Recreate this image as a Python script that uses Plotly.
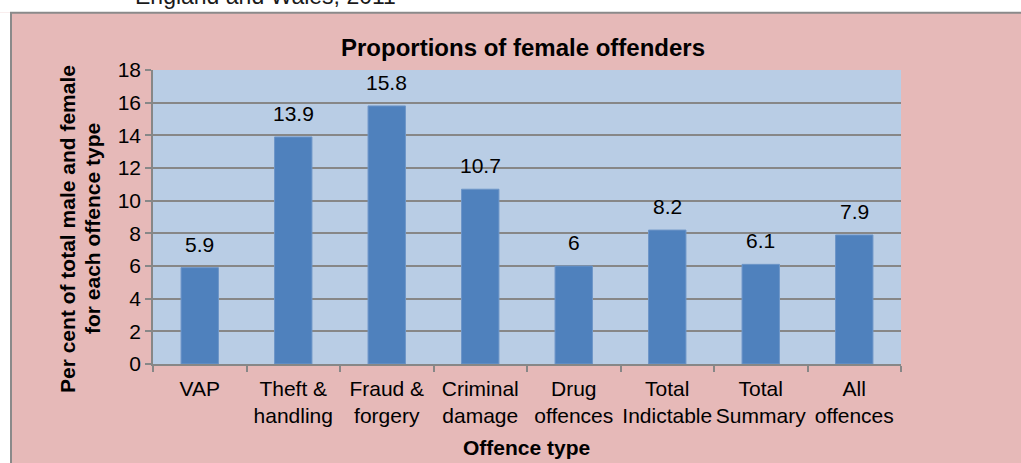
import plotly.graph_objects as go

categories = ["VAP", "Theft &<br>handling", "Fraud &<br>forgery", "Criminal<br>damage",
              "Drug<br>offences", "Total<br>Indictable", "Total<br>Summary", "All<br>offences"]
values = [5.9, 13.9, 15.8, 10.7, 6, 8.2, 6.1, 7.9]
value_labels = ["5.9", "13.9", "15.8", "10.7", "6", "8.2", "6.1", "7.9"]
y_ticks = [0, 2, 4, 6, 8, 10, 12, 14, 16, 18]

chart_title = "Proportions of female offenders"
y_title_lines = ["Per cent of total male and female", "for each offence type"]
x_title = "Offence type"
caption = "England and Wales, 2011"

W, H = 1021, 463
L, R, T, B = 153, 120, 70, 99
PW, PH = W - L - R, H - T - B

def px(x):
    return (x - L) / PW

def py(y):
    return (H - B - y) / PH

FONT = "Arial, Liberation Sans, sans-serif"
PINK = "#E6B9B8"
GRID = "#878787"

fig = go.Figure()
fig.add_trace(go.Bar(
    x=categories, y=values,
    marker=dict(color="#4F81BD", line=dict(color="#6E96C8", width=1)),
    width=0.4,
    hoverinfo="skip",
))

annotations = []
for c, v, lab in zip(categories, values, value_labels):
    annotations.append(dict(x=c, y=v, xref="x", yref="y", text=lab, showarrow=False,
                            yanchor="bottom", yshift=10,
                            font=dict(family=FONT, size=21, color="#000000")))

annotations.append(dict(x=px(522.5), y=py(47), xref="paper", yref="paper", text="<b>%s</b>" % chart_title,
                        showarrow=False, xanchor="center", yanchor="middle",
                        font=dict(family=FONT, size=24, color="#000000")))
annotations.append(dict(x=px(67), y=py(229), xref="paper", yref="paper", text="<b>%s</b>" % y_title_lines[0],
                        showarrow=False, textangle=-90, xanchor="center", yanchor="middle",
                        font=dict(family=FONT, size=21, color="#000000")))
annotations.append(dict(x=px(92), y=py(229), xref="paper", yref="paper", text="<b>%s</b>" % y_title_lines[1],
                        showarrow=False, textangle=-90, xanchor="center", yanchor="middle",
                        font=dict(family=FONT, size=21, color="#000000")))
annotations.append(dict(x=px(526.5), y=py(447), xref="paper", yref="paper", text="<b>%s</b>" % x_title,
                        showarrow=False, xanchor="center", yanchor="middle",
                        font=dict(family=FONT, size=21, color="#000000")))
annotations.append(dict(x=px(133), y=py(11), xref="paper", yref="paper", text=caption,
                        showarrow=False, xanchor="left", yanchor="bottom",
                        font=dict(family=FONT, size=23, color="#1a1a1a")))

shapes = [
    dict(type="rect", xref="paper", yref="paper", x0=px(-5), x1=px(W + 5), y0=py(12.5), y1=py(-30),
         fillcolor="#FFFFFF", line=dict(width=0), layer="below"),
    dict(type="rect", xref="paper", yref="paper", x0=px(-20), x1=px(10), y0=py(12.5), y1=py(H + 20),
         fillcolor="#FFFFFF", line=dict(width=0), layer="below"),
    dict(type="line", xref="paper", yref="paper", x0=px(10), x1=px(W + 5), y0=py(12.8), y1=py(12.8),
         line=dict(color="#8A8A8A", width=2)),
    dict(type="line", xref="paper", yref="paper", x0=px(11), x1=px(11), y0=py(12.8), y1=py(H + 5),
         line=dict(color="#8A8A8A", width=2)),
]

fig.update_layout(
    width=W, height=H,
    margin=dict(l=L, r=R, t=T, b=B, pad=0, autoexpand=False),
    paper_bgcolor=PINK,
    plot_bgcolor="#B9CDE5",
    showlegend=False,
    bargap=0.6,
    font=dict(family=FONT, size=21, color="#000000"),
    annotations=annotations,
    shapes=shapes,
    xaxis=dict(
        type="category",
        tickson="boundaries",
        tickangle=0,
        automargin=False,
        ticks="outside", ticklen=6, tickcolor=GRID, tickwidth=1.5,
        ticklabelstandoff=5,
        showline=True, linecolor=GRID, linewidth=1.5,
        showgrid=False,
        tickfont=dict(family=FONT, size=21, color="#000000"),
        fixedrange=True,
    ),
    yaxis=dict(
        range=[0, 18],
        automargin=False,
        tickvals=y_ticks,
        ticktext=[str(t) for t in y_ticks],
        ticks="outside", ticklen=6, tickcolor=GRID, tickwidth=1.5,
        showline=True, linecolor=GRID, linewidth=1.5,
        showgrid=True, gridcolor=GRID, gridwidth=1.5,
        zeroline=False,
        tickfont=dict(family=FONT, size=21, color="#000000"),
        fixedrange=True,
    ),
)

fig.write_html("out.html", config={"displayModeBar": False},
               post_script="document.body.style.margin='0';document.body.style.overflow='hidden';")
